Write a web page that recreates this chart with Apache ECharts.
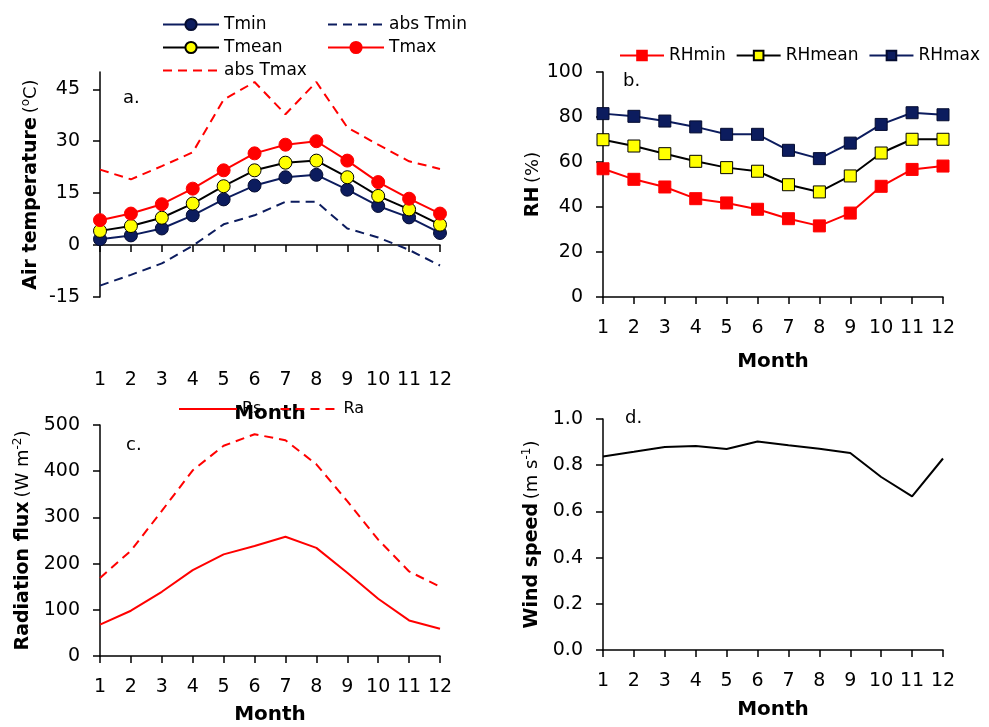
<!DOCTYPE html>
<html style="height: 100%">
<head>
    <meta charset="utf-8">
</head>
<body style="height: 100%; margin: 0; background: #fff">
    <div id="container" style="width: 989px; height: 727px"></div>

    <script type="text/javascript" src="https://cdn.jsdelivr.net/npm/echarts@6/dist/echarts.min.js"></script>

    <script type="text/javascript">

        var months = ['1', '2', '3', '4', '5', '6', '7', '8', '9', '10', '11', '12'];

        // a. air temperature (°C)
        var tMin = [1.7, 2.8, 4.8, 8.6, 13.2, 17.2, 19.6, 20.3, 16.0, 11.3, 8.0, 3.5];
        var tMean = [4.1, 5.5, 7.9, 12.0, 17.0, 21.6, 23.8, 24.4, 19.6, 14.2, 10.3, 5.9];
        var tMax = [7.2, 9.1, 11.8, 16.3, 21.6, 26.5, 29.0, 30.0, 24.4, 18.2, 13.4, 9.1];
        var absTmin = [-11.7, -8.6, -5.3, -0.2, 6.0, 8.6, 12.5, 12.5, 4.8, 2.2, -1.4, -5.9];
        var absTmax = [21.8, 19.0, 22.8, 26.8, 42.0, 47.1, 37.8, 47.1, 34.0, 29.0, 24.2, 22.0];
        var tTicks = [-15, 0, 15, 30, 45];

        // b. relative humidity (%)
        var rhMin = [57.0, 52.3, 48.9, 43.7, 41.8, 39.0, 34.8, 31.6, 37.3, 49.2, 56.7, 58.2];
        var rhMean = [69.9, 67.1, 63.7, 60.3, 57.5, 55.9, 49.9, 46.7, 53.8, 64.0, 70.1, 70.1];
        var rhMax = [81.5, 80.3, 78.2, 75.6, 72.3, 72.3, 65.2, 61.5, 68.4, 76.7, 81.9, 81.0];

        // c. radiation flux (W m-2)
        var rs = [68, 98, 139, 186, 220, 238, 258, 234, 180, 124, 77, 59];
        var ra = [169, 228, 314, 402, 455, 480, 467, 415, 335, 252, 183, 150];

        // d. wind speed (m s-1)
        var wind = [0.838, 0.858, 0.879, 0.883, 0.870, 0.903, 0.886, 0.871, 0.853, 0.749, 0.665, 0.829];

        var NAVY = '#0c1c5e';
        var RED = '#ff0000';
        var FONT = 'DejaVu Sans';
        var H = 727;

        var dom = document.getElementById('container');
        var myChart = echarts.init(dom);

        var lineStyleK = { color: '#000', width: 1.5 };
        var axisTick = { show: true, inside: false, length: 7, lineStyle: lineStyleK };
        var tickLabel = { color: '#000', fontSize: 19, fontFamily: FONT };

        function monthAxis(grid, onZero, margin, gap) {
            return {
                type: 'category',
                gridIndex: grid,
                position: 'bottom',
                data: months,
                boundaryGap: false,
                axisLine: { show: true, onZero: onZero, lineStyle: lineStyleK },
                axisTick: axisTick,
                axisLabel: Object.assign({ margin: margin, interval: 0 }, tickLabel),
                splitLine: { show: false },
                name: 'Month',
                nameLocation: 'middle',
                nameGap: gap,
                nameTextStyle: { color: '#000', fontSize: 20, fontWeight: 'bold', fontFamily: FONT }
            };
        }

        function valueAxis(grid, min, max, interval, name, gap, extra) {
            var ax = {
                type: 'value',
                gridIndex: grid,
                min: min,
                max: max,
                interval: interval,
                axisLine: { show: true, onZero: false, lineStyle: lineStyleK },
                axisTick: axisTick,
                axisLabel: Object.assign({ margin: 20 }, tickLabel),
                splitLine: { show: false },
                name: name,
                nameLocation: 'middle',
                nameGap: gap,
                nameTextStyle: {
                    color: '#000',
                    fontFamily: FONT,
                    rich: {
                        b: { fontSize: 19, fontWeight: 'bold', fontFamily: FONT, color: '#000' },
                        n: { fontSize: 18, fontFamily: FONT, color: '#000' },
                        s: { fontSize: 12, fontFamily: FONT, color: '#000', verticalAlign: 'top', lineHeight: 22 }
                    }
                }
            };
            return Object.assign(ax, extra || {});
        }

        var legendText = { color: '#000', fontSize: 17, fontFamily: FONT };
        // legend entries for plain lines: hide the marker, keep the line
        function lineOnly(name) {
            return { name: name, itemStyle: { opacity: 0 } };
        }

        // panel a: y range -15..50, the month axis sits on 0 and its labels go below the plot
        var gridA = { left: 100, right: 549, top: 72, bottom: 430 };
        var aMin = -15, aMax = 50;
        var aHeight = H - gridA.top - gridA.bottom;
        var belowZero = aHeight * (0 - aMin) / (aMax - aMin);

        var option = {
            animation: false,
            textStyle: { fontFamily: FONT },
            grid: [
                gridA,
                { left: 603, right: 46, top: 72, bottom: 430 },
                { left: 100, right: 549, top: 425, bottom: 71 },
                { left: 603, right: 46, top: 419, bottom: 77 }
            ],
            legend: [
                {
                    orient: 'vertical', left: 157, top: 11, itemGap: 6,
                    itemWidth: 56, itemHeight: 14, textStyle: legendText,
                    data: ['Tmin', 'Tmean', lineOnly('abs Tmax')]
                },
                {
                    orient: 'vertical', left: 322, top: 11, itemGap: 6,
                    itemWidth: 56, itemHeight: 14, textStyle: legendText,
                    data: [lineOnly('abs Tmin'), 'Tmax']
                },
                {
                    orient: 'horizontal', left: 614, top: 42, itemGap: 10,
                    itemWidth: 44, itemHeight: 12, textStyle: legendText,
                    data: ['RHmin', 'RHmean', 'RHmax']
                },
                {
                    orient: 'horizontal', left: 173, top: 396, itemGap: 18,
                    itemWidth: 58, itemHeight: 12, textStyle: { color: '#000', fontSize: 16, fontFamily: FONT },
                    data: [lineOnly('Rs'), lineOnly('Ra')]
                }
            ],
            graphic: [
                { type: 'text', left: 123, top: 89, style: { text: 'a.', fontSize: 18, fontFamily: FONT, fill: '#000' } },
                { type: 'text', left: 623, top: 72, style: { text: 'b.', fontSize: 18, fontFamily: FONT, fill: '#000' } },
                { type: 'text', left: 126, top: 436, style: { text: 'c.', fontSize: 18, fontFamily: FONT, fill: '#000' } },
                { type: 'text', left: 625, top: 409, style: { text: 'd.', fontSize: 18, fontFamily: FONT, fill: '#000' } }
            ],
            xAxis: [
                monthAxis(0, true, 22 + belowZero, 55 + belowZero),
                monthAxis(1, false, 22, 55),
                monthAxis(2, false, 22, 49),
                monthAxis(3, false, 22, 50)
            ],
            yAxis: [
                valueAxis(0, aMin, aMax, 15, '{b|Air temperature} {n|(}{s|o}{n|C)}', 58, {
                    axisTick: Object.assign({ customValues: tTicks }, axisTick),
                    axisLabel: Object.assign({ margin: 20, customValues: tTicks }, tickLabel)
                }),
                valueAxis(1, 0, 100, 20, '{b|RH} {n|(%)}', 56),
                valueAxis(2, 0, 500, 100, '{b|Radiation flux} {n|(W m}{s|-2}{n|)}', 66),
                valueAxis(3, 0, 1, 0.2, '{b|Wind speed} {n|(m s}{s|-1}{n|)}', 60, {
                    axisLabel: Object.assign({
                        margin: 20,
                        formatter: function (v) { return v.toFixed(1); }
                    }, tickLabel)
                })
            ],
            series: [
                {
                    name: 'abs Tmax', type: 'line', xAxisIndex: 0, yAxisIndex: 0, data: absTmax,
                    symbol: 'none', lineStyle: { color: RED, width: 2, type: [9, 6] }, itemStyle: { color: RED }
                },
                {
                    name: 'abs Tmin', type: 'line', xAxisIndex: 0, yAxisIndex: 0, data: absTmin,
                    symbol: 'none', lineStyle: { color: NAVY, width: 2, type: [9, 6] }, itemStyle: { color: NAVY }
                },
                {
                    name: 'Tmin', type: 'line', xAxisIndex: 0, yAxisIndex: 0, data: tMin,
                    symbol: 'circle', symbolSize: 13, z: 3,
                    lineStyle: { color: NAVY, width: 2 },
                    itemStyle: { color: NAVY, borderColor: '#050c30', borderWidth: 1 }
                },
                {
                    name: 'Tmean', type: 'line', xAxisIndex: 0, yAxisIndex: 0, data: tMean,
                    symbol: 'circle', symbolSize: 13, z: 3,
                    lineStyle: { color: '#000', width: 2 },
                    itemStyle: { color: '#ffff00', borderColor: '#000', borderWidth: 1 }
                },
                {
                    name: 'Tmax', type: 'line', xAxisIndex: 0, yAxisIndex: 0, data: tMax,
                    symbol: 'circle', symbolSize: 13, z: 3,
                    lineStyle: { color: RED, width: 2 },
                    itemStyle: { color: RED, borderColor: RED, borderWidth: 1 }
                },
                {
                    name: 'RHmin', type: 'line', xAxisIndex: 1, yAxisIndex: 1, data: rhMin,
                    symbol: 'rect', symbolSize: 12,
                    lineStyle: { color: RED, width: 2 },
                    itemStyle: { color: RED, borderColor: RED, borderWidth: 1 }
                },
                {
                    name: 'RHmean', type: 'line', xAxisIndex: 1, yAxisIndex: 1, data: rhMean,
                    symbol: 'rect', symbolSize: 12,
                    lineStyle: { color: '#000', width: 2 },
                    itemStyle: { color: '#ffff00', borderColor: '#000', borderWidth: 1 }
                },
                {
                    name: 'RHmax', type: 'line', xAxisIndex: 1, yAxisIndex: 1, data: rhMax,
                    symbol: 'rect', symbolSize: 12,
                    lineStyle: { color: NAVY, width: 2 },
                    itemStyle: { color: NAVY, borderColor: '#050c30', borderWidth: 1 }
                },
                {
                    name: 'Rs', type: 'line', xAxisIndex: 2, yAxisIndex: 2, data: rs,
                    symbol: 'none', lineStyle: { color: RED, width: 2 }, itemStyle: { color: RED }
                },
                {
                    name: 'Ra', type: 'line', xAxisIndex: 2, yAxisIndex: 2, data: ra,
                    symbol: 'none', lineStyle: { color: RED, width: 2, type: [9, 6] }, itemStyle: { color: RED }
                },
                {
                    name: 'Wind', type: 'line', xAxisIndex: 3, yAxisIndex: 3, data: wind,
                    symbol: 'none', lineStyle: { color: '#000', width: 2 }, itemStyle: { color: '#000' }
                }
            ]
        };

        myChart.setOption(option);

    </script>
</body>
</html>
